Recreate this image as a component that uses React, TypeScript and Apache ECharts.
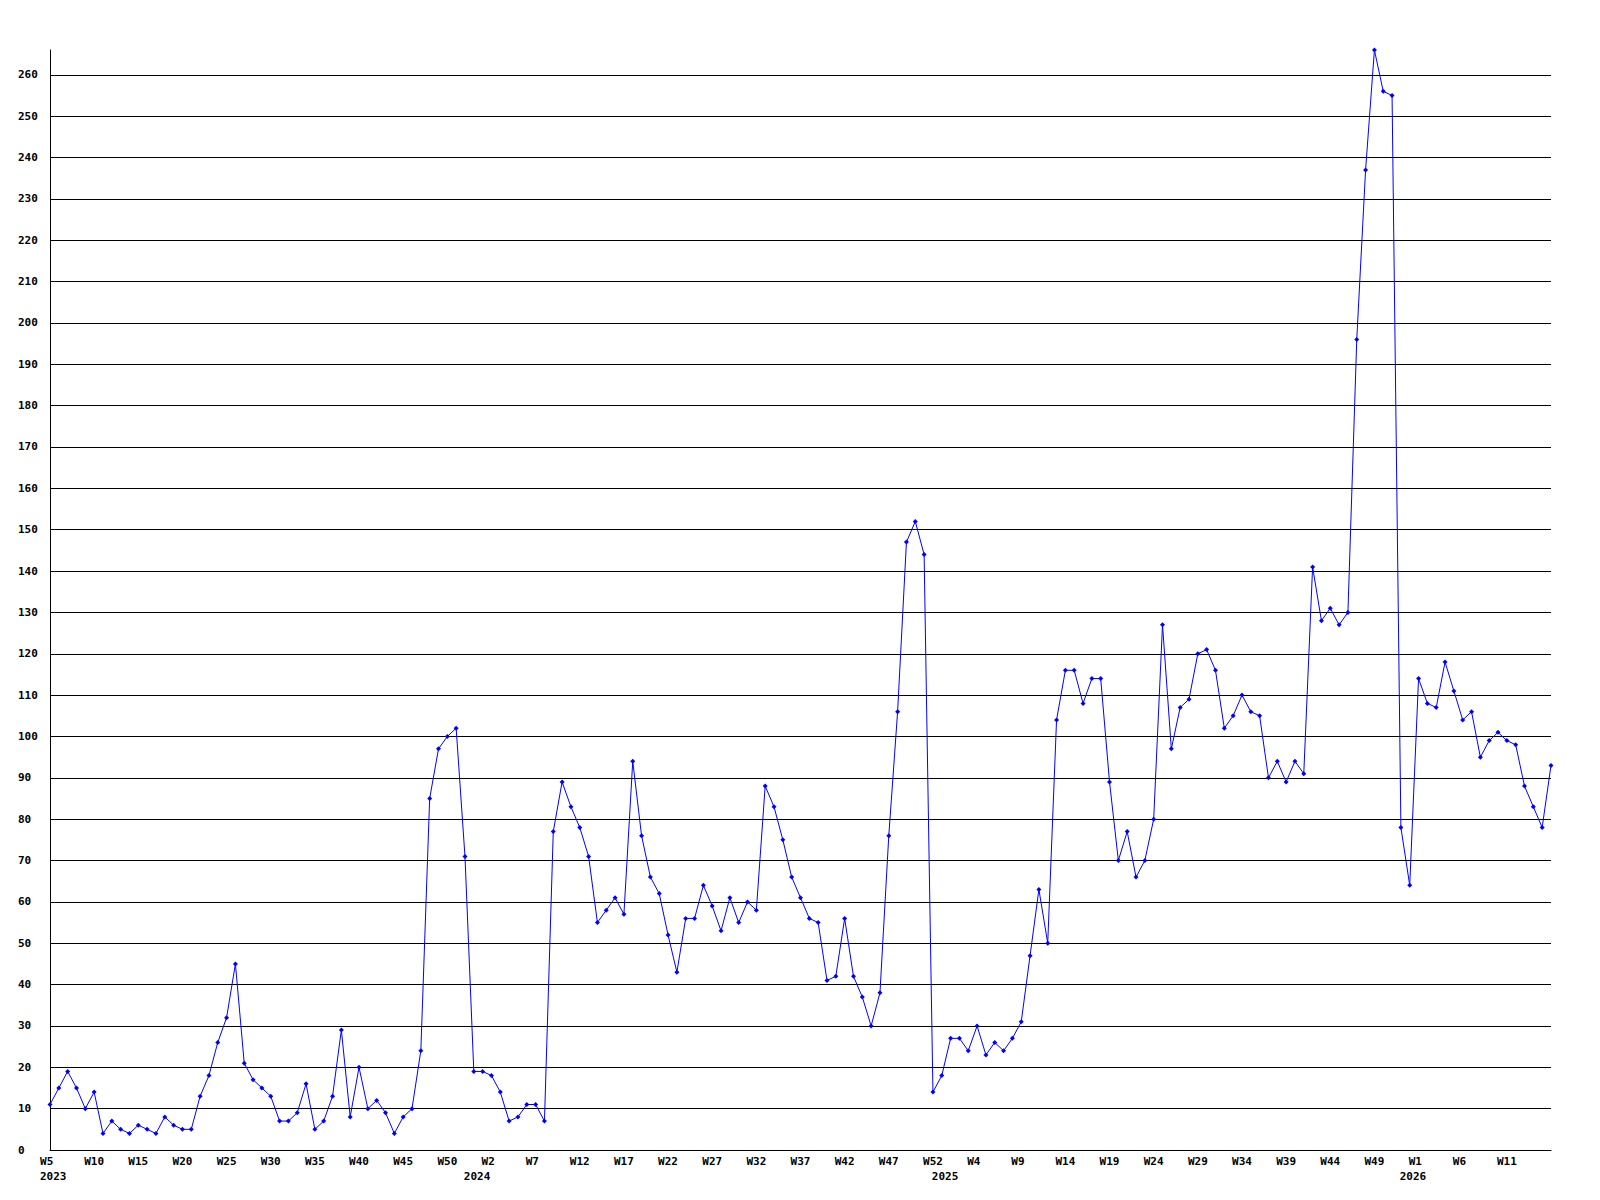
import React, { useEffect, useRef } from "react";
import * as echarts from "echarts";

// Weekly values, by year segment
const values2023 = [11, 15, 19, 15, 10, 14, 4, 7, 5, 4, 6, 5, 4, 8, 6, 5, 5, 13, 18, 26, 32, 45, 21, 17, 15, 13, 7, 7, 9, 16, 5, 7, 13, 29, 8, 20, 10, 12, 9, 4, 8, 10, 24, 85, 97, 100, 102, 71, 19];
const values2024 = [19, 18, 14, 7, 8, 11, 11, 7, 77, 89, 83, 78, 71, 55, 58, 61, 57, 94, 76, 66, 62, 52, 43, 56, 56, 64, 59, 53, 61, 55, 60, 58, 88, 83, 75, 66, 61, 56, 55, 41, 42, 56, 42, 37, 30, 38, 76, 106, 147, 152, 144, 14, 18];
const values2025 = [27, 27, 24, 30, 23, 26, 24, 27, 31, 47, 63, 50, 104, 116, 116, 108, 114, 114, 89, 70, 77, 66, 70, 80, 127, 97, 107, 109, 120, 121, 116, 102, 105, 110, 106, 105, 90, 94, 89, 94, 91, 141, 128, 131, 127, 130, 196, 237, 266, 256, 255, 78, 64];
const values2026 = [114, 108, 107, 118, 111, 104, 106, 95, 99, 101, 99, 98, 88, 83, 78, 93];

// Week numbering of each segment: [year, first week number, values]
const segments: [number, number, number[]][] = [
  [2023, 5, values2023],
  [2024, 1, values2024],
  [2025, 1, values2025],
  [2026, 1, values2026],
];

// Year labels shown under the week labels
const yearTicks: Record<string, string> = {
  "2023-W5": "2023",
  "2023-W53": "2024",
  "2024-W53": "2025",
  "2025-W53": "2026",
};

const categories: string[] = [];
const seriesValues: number[] = [];
segments.forEach(([year, first, vals]) => {
  vals.forEach((v, i) => {
    categories.push(`${year}-W${first + i}`);
    seriesValues.push(v);
  });
});

const FONT = "'DejaVu Sans Mono', monospace";
const baseText = { fontFamily: FONT, fontWeight: "bold" as const, fontSize: 11, color: "#000" };

export default function App() {
  const ref = useRef<HTMLDivElement>(null);

  useEffect(() => {
    if (!ref.current) return;
    const chart = echarts.init(ref.current, null, { renderer: "svg" });
    chart.setOption({
      animation: false,
      backgroundColor: "#ffffff",
      grid: { left: 50, right: 49, top: 50, bottom: 50, containLabel: false },
      xAxis: [
        {
          type: "category",
          data: categories,
          boundaryGap: false,
          position: "bottom",
          axisLine: { show: true, lineStyle: { color: "#000", width: 1 } },
          axisTick: { show: false },
          splitLine: { show: false },
          axisLabel: {
            ...baseText,
            interval: (index: number) => index % 5 === 0 && index < categories.length - 1,
            margin: 6,
            formatter: (v: string) => {
              const w = v.split("-")[1];
              return w.length === 2 ? `{s|${w}}` : `{n|${w}}`;
            },
            rich: {
              s: { ...baseText, padding: [0, 6.6, 0, 0] },
              n: { ...baseText },
            },
          },
        },
        {
          type: "category",
          data: categories,
          boundaryGap: false,
          position: "bottom",
          offset: 0,
          axisLine: { show: false },
          axisTick: { show: false },
          splitLine: { show: false },
          axisLabel: {
            ...baseText,
            margin: 21,
            interval: (index: number, value: string) => yearTicks[value] !== undefined,
            formatter: (v: string) => (yearTicks[v] ? `{y|${yearTicks[v]}}` : ""),
            rich: {
              y: { ...baseText, padding: [0, 0, 0, 6.5] },
            },
          },
        },
      ],
      yAxis: {
        type: "value",
        min: 0,
        max: 266,
        interval: 10,
        axisLine: { show: true, lineStyle: { color: "#000", width: 1 } },
        axisTick: { show: false },
        splitLine: { show: true, showMaxLine: false, lineStyle: { color: "#000", width: 1 } },
        axisLabel: {
          ...baseText,
          align: "left",
          margin: 32,
          showMaxLabel: false,
        },
      },
      series: [
        {
          type: "line",
          xAxisIndex: 0,
          data: seriesValues,
          symbol: "diamond",
          symbolSize: 5,
          showAllSymbol: true,
          lineStyle: { color: "#0000ff", width: 1 },
          itemStyle: { color: "#0000ff" },
          clip: true,
        },
      ],
    });
    return () => chart.dispose();
  }, []);

  return (
    <div
      ref={ref}
      style={{ position: "fixed", left: 0, top: 0, width: 1600, height: 1200, background: "#fff" }}
    />
  );
}
